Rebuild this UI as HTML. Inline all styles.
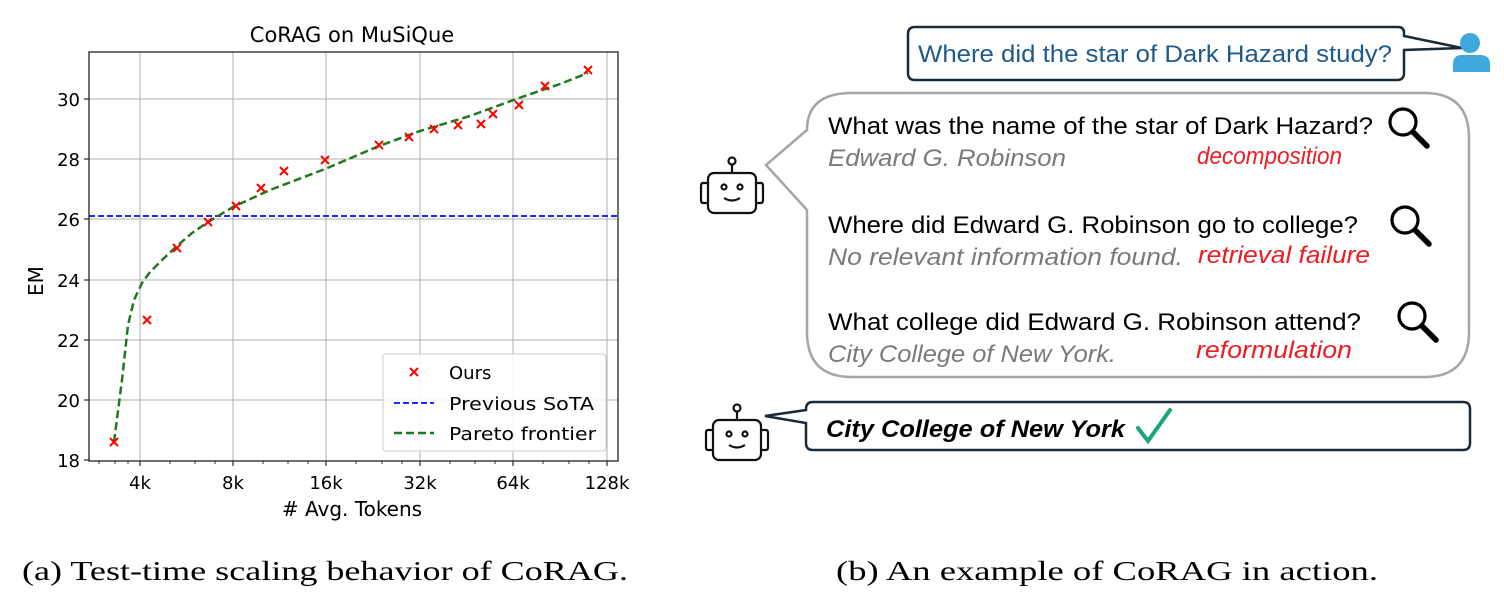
<!DOCTYPE html>
<html><head><meta charset="utf-8"><style>
html,body{margin:0;padding:0;background:#fff;}
svg{display:block;}
.s{font-family:"DejaVu Sans","Liberation Sans",sans-serif;}
.l{font-family:"Liberation Sans",sans-serif;}
.c{font-family:"Liberation Serif",serif;}
</style></head><body>
<svg width="1504" height="599" viewBox="0 0 1504 599" xmlns="http://www.w3.org/2000/svg">
<g stroke="#b0b0b0" stroke-width="1">
<line x1="140" y1="52" x2="140" y2="461"/><line x1="233" y1="52" x2="233" y2="461"/>
<line x1="326" y1="52" x2="326" y2="461"/><line x1="420" y1="52" x2="420" y2="461"/>
<line x1="513" y1="52" x2="513" y2="461"/><line x1="607" y1="52" x2="607" y2="461"/>
<line x1="89" y1="99" x2="618" y2="99"/><line x1="89" y1="159" x2="618" y2="159"/>
<line x1="89" y1="219" x2="618" y2="219"/><line x1="89" y1="280" x2="618" y2="280"/>
<line x1="89" y1="340" x2="618" y2="340"/><line x1="89" y1="400" x2="618" y2="400"/>
</g>
<g stroke="#000" stroke-width="1">
<line x1="140" y1="461" x2="140" y2="466"/><line x1="233" y1="461" x2="233" y2="466"/>
<line x1="326" y1="461" x2="326" y2="466"/><line x1="420" y1="461" x2="420" y2="466"/>
<line x1="513" y1="461" x2="513" y2="466"/><line x1="607" y1="461" x2="607" y2="466"/>
<line x1="84" y1="99" x2="89" y2="99"/><line x1="84" y1="159" x2="89" y2="159"/>
<line x1="84" y1="219" x2="89" y2="219"/><line x1="84" y1="280" x2="89" y2="280"/>
<line x1="84" y1="340" x2="89" y2="340"/><line x1="84" y1="400" x2="89" y2="400"/>
<line x1="84" y1="460" x2="89" y2="460"/>
<g stroke-width="0.8">
<line x1="99" y1="461" x2="99" y2="464"/><line x1="115" y1="461" x2="115" y2="464"/><line x1="128" y1="461" x2="128" y2="464"/>
<line x1="170" y1="461" x2="170" y2="464"/><line x1="195" y1="461" x2="195" y2="464"/><line x1="215" y1="461" x2="215" y2="464"/>
<line x1="263" y1="461" x2="263" y2="464"/><line x1="288" y1="461" x2="288" y2="464"/><line x1="308" y1="461" x2="308" y2="464"/>
<line x1="356" y1="461" x2="356" y2="464"/><line x1="382" y1="461" x2="382" y2="464"/><line x1="402" y1="461" x2="402" y2="464"/>
<line x1="450" y1="461" x2="450" y2="464"/><line x1="475" y1="461" x2="475" y2="464"/><line x1="495" y1="461" x2="495" y2="464"/>
<line x1="543" y1="461" x2="543" y2="464"/><line x1="569" y1="461" x2="569" y2="464"/><line x1="589" y1="461" x2="589" y2="464"/>
</g></g>
<line x1="89" y1="216" x2="618" y2="216" stroke="#1a2bff" stroke-width="2" stroke-dasharray="6,3"/>
<path d="M114,442 L122,380 L128,325 L134,300 L142,283 L150,272 L162,260 L177,246 L192,233 L208,222 L233,207 L270,190 L325,169 L379,146 L420,131 L470,116 L519,98 L560,84 L588,73" fill="none" stroke="#1f7a1f" stroke-width="2.5" stroke-dasharray="8,4"/>
<g stroke="#ff0000" stroke-width="2">
<path d="M110,438l8,8m0,-8l-8,8M143,316l8,8m0,-8l-8,8M173,244l8,8m0,-8l-8,8M204,218l8,8m0,-8l-8,8M232,202l8,8m0,-8l-8,8M257,184l8,8m0,-8l-8,8M280,167l8,8m0,-8l-8,8M321,156l8,8m0,-8l-8,8M375,141l8,8m0,-8l-8,8M405,133l8,8m0,-8l-8,8M430,125l8,8m0,-8l-8,8M454,121l8,8m0,-8l-8,8M477,120l8,8m0,-8l-8,8M489,110l8,8m0,-8l-8,8M515,101l8,8m0,-8l-8,8M541,82l8,8m0,-8l-8,8M584,66l8,8m0,-8l-8,8"/>
</g>
<rect x="89" y="52" width="529" height="409" fill="none" stroke="#222" stroke-width="1.3"/>
<rect x="383" y="354" width="223" height="97" rx="3" fill="#fff" fill-opacity="0.85" stroke="#ccc"/>
<path d="M410,368l8,8m0,-8l-8,8" stroke="#f00" stroke-width="2"/>
<line x1="394" y1="403" x2="434" y2="403" stroke="#1a2bff" stroke-width="2" stroke-dasharray="6,3"/>
<line x1="394" y1="433" x2="434" y2="433" stroke="#1f7a1f" stroke-width="2.5" stroke-dasharray="8,4"/>
<g class="s" font-size="18" fill="#000">
<text x="449" y="379">Ours</text>
<text x="449" y="410" textLength="145" lengthAdjust="spacingAndGlyphs">Previous SoTA</text>
<text x="449" y="440" textLength="147" lengthAdjust="spacingAndGlyphs">Pareto frontier</text>
<text x="352" y="42" font-size="21" text-anchor="middle">CoRAG on MuSiQue</text>
<g text-anchor="end"><text x="80" y="106">30</text><text x="80" y="166">28</text><text x="80" y="226">26</text><text x="80" y="287">24</text><text x="80" y="347">22</text><text x="80" y="407">20</text><text x="80" y="467">18</text></g>
<g text-anchor="middle"><text x="140" y="489">4k</text><text x="233" y="489">8k</text><text x="326" y="489">16k</text><text x="420" y="489">32k</text><text x="513" y="489">64k</text><text x="607" y="489">128k</text>
<text x="352" y="516" font-size="20">#&#160;Avg. Tokens</text></g>
<text transform="translate(43,281) rotate(-90)" text-anchor="middle" font-size="20">EM</text>
</g>
<g class="c" font-size="27" fill="#000">
<text x="22" y="580" textLength="606" lengthAdjust="spacingAndGlyphs">(a) Test-time scaling behavior of CoRAG.</text>
<text x="836" y="580" textLength="542" lengthAdjust="spacingAndGlyphs">(b) An example of CoRAG in action.</text>
</g>
<path d="M915,27 H1398 Q1404,27 1404,33 V36 L1462,48 L1404,50 V73 Q1404,80 1397,80 H915 Q908,80 908,73 V34 Q908,27 915,27 Z" fill="#fff" stroke="#1b2a38" stroke-width="2.5"/>
<text class="l" x="918" y="62" font-size="24" fill="#1f5a8c" textLength="474" lengthAdjust="spacingAndGlyphs">Where did the star of Dark Hazard study?</text>
<circle cx="1470" cy="43" r="10" fill="#3fa9dd"/>
<path d="M1453,72 V64 Q1453,55 1462,55 H1480 Q1490,55 1490,64 V72 Z" fill="#3fa9dd"/>
<path d="M852,93 H1424 Q1469,93 1469,138 V332 Q1469,377 1424,377 H852 Q807,377 807,332 V210 L766,165 L807,130 Q807,93 852,93 Z" fill="#fff" stroke="#a6a6a6" stroke-width="2.5"/>
<g class="l" font-size="24">
<text x="828" y="134" textLength="545" lengthAdjust="spacingAndGlyphs">What was the name of the star of Dark Hazard?</text>
<text x="828" y="166" font-style="italic" fill="#7a7a7a" textLength="238" lengthAdjust="spacingAndGlyphs">Edward G. Robinson</text>
<text x="1197" y="164" font-style="italic" fill="#ee1c24" textLength="145" lengthAdjust="spacingAndGlyphs">decomposition</text>
<text x="828" y="233" textLength="530" lengthAdjust="spacingAndGlyphs">Where did Edward G. Robinson go to college?</text>
<text x="828" y="265" font-style="italic" fill="#7a7a7a" textLength="355" lengthAdjust="spacingAndGlyphs">No relevant information found.</text>
<text x="1198" y="263" font-style="italic" fill="#ee1c24" textLength="172" lengthAdjust="spacingAndGlyphs">retrieval failure</text>
<text x="828" y="330" textLength="533" lengthAdjust="spacingAndGlyphs">What college did Edward G. Robinson attend?</text>
<text x="828" y="362" font-style="italic" fill="#7a7a7a" textLength="288" lengthAdjust="spacingAndGlyphs">City College of New York.</text>
<text x="1196" y="358" font-style="italic" fill="#ee1c24" textLength="156" lengthAdjust="spacingAndGlyphs">reformulation</text>
</g>
<g fill="none" stroke="#000">
<circle cx="1403" cy="122" r="13" stroke-width="3.2"/><line x1="1413" y1="132" x2="1427" y2="146" stroke-width="5.5" stroke-linecap="round"/>
<circle cx="1405" cy="220" r="13" stroke-width="3.2"/><line x1="1415" y1="230" x2="1429" y2="244" stroke-width="5.5" stroke-linecap="round"/>
<circle cx="1412" cy="316" r="13" stroke-width="3.2"/><line x1="1422" y1="326" x2="1436" y2="340" stroke-width="5.5" stroke-linecap="round"/>
</g>
<path d="M813,402 H1463 Q1470,402 1470,409 V443 Q1470,450 1463,450 H813 Q806,450 806,443 V423 L765,416 L806,410 V409 Q806,402 813,402 Z" fill="#fff" stroke="#1b2a38" stroke-width="2.5"/>
<text class="l" x="826" y="437" font-size="24" font-weight="bold" font-style="italic" textLength="299" lengthAdjust="spacingAndGlyphs">City College of New York</text>
<path d="M1138,428 L1148,441 L1170,410" fill="none" stroke="#1aa572" stroke-width="4" stroke-linecap="round"/>
<g fill="none" stroke="#111" stroke-width="2.2">
<g transform="translate(700,155)">
<circle cx="32" cy="6" r="3.5"/><line x1="32" y1="10" x2="32" y2="18"/>
<rect x="8" y="18" width="48" height="40" rx="6"/>
<path d="M8,28 H3 Q1,28 1,31 V45 Q1,48 3,48 H8 M56,28 H61 Q63,28 63,31 V45 Q63,48 61,48 H56"/>
<circle cx="24" cy="32" r="2.5"/><circle cx="40" cy="32" r="2.5"/>
<path d="M24,43 Q32,48 40,43"/>
</g>
<g transform="translate(705,402)">
<circle cx="32" cy="6" r="3.5"/><line x1="32" y1="10" x2="32" y2="18"/>
<rect x="8" y="18" width="48" height="40" rx="6"/>
<path d="M8,28 H3 Q1,28 1,31 V45 Q1,48 3,48 H8 M56,28 H61 Q63,28 63,31 V45 Q63,48 61,48 H56"/>
<circle cx="24" cy="32" r="2.5"/><circle cx="40" cy="32" r="2.5"/>
<path d="M24,43 Q32,48 40,43"/>
</g>
</g>
</svg>
</body></html>
